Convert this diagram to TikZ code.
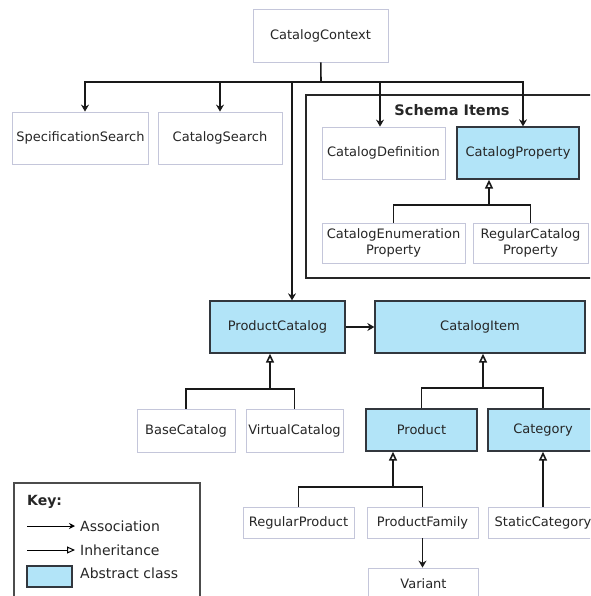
\documentclass[tikz,border=0pt]{standalone}
\usepackage{fontspec}
\setmainfont{DejaVu Sans}
\usetikzlibrary{arrows.meta,positioning,calc}
\definecolor{absblue}{RGB}{178,228,248}
\definecolor{clsedge}{RGB}{196,198,218}
\definecolor{absedge}{RGB}{50,55,62}
\tikzset{
  cls/.style={draw=clsedge,line width=0.8pt,fill=white,inner sep=0pt,align=center,
    font=\fontsize{13}{15.5}\selectfont,text=black!85},
  abscls/.style={cls,draw=absedge,line width=1.3pt,fill=absblue},
  link/.style={draw,line width=1.6pt,black!90},
  assoc/.style={link,-{Stealth[length=7pt,width=8pt]}},
  inherit/.style={link,-{Triangle[open,length=9pt,width=8pt]}},
  keytext/.style={anchor=west,inner sep=0pt,font=\fontsize{14}{16}\selectfont,text=black!85},
}
\begin{document}
\begin{tikzpicture}[x=1pt,y=-1pt]
\useasboundingbox (0,0) rectangle (590,596);
\clip (0,0) rectangle (590,596);

% Schema items frame
\draw[line width=1.8pt,black!85] (306,95) rectangle (598,278);
\node[font=\bfseries\fontsize{14.5}{16}\selectfont,text=black!85] (schema) at (452,110) {Schema Items};

% classes
\node[cls,minimum width=135pt,minimum height=53pt] (ctx) at (320.5,35.5) {CatalogContext};
\node[cls,minimum width=136pt,minimum height=52pt] (spec) at (80.5,138) {SpecificationSearch};
\node[cls,minimum width=124pt,minimum height=52pt] (csearch) at (220,138) {CatalogSearch};
\node[cls,minimum width=123pt,minimum height=52pt] (cdef) at (383.5,153) {CatalogDefinition};
\node[abscls,minimum width=122pt,minimum height=52pt] (cprop) at (518,153) {CatalogProperty};
\node[cls,minimum width=143pt,minimum height=40pt] (cenum) at (393.5,243) {CatalogEnumeration\\Property};
\node[cls,minimum width=115pt,minimum height=40pt] (rcprop) at (530.5,243) {RegularCatalog\\Property};
\node[abscls,minimum width=135pt,minimum height=52pt] (pcat) at (277.5,327) {ProductCatalog};
\node[abscls,minimum width=210pt,minimum height=52pt] (citem) at (480,327) {CatalogItem};
\node[cls,minimum width=98pt,minimum height=43pt] (bcat) at (186,430.5) {BaseCatalog};
\node[cls,minimum width=97pt,minimum height=43pt] (vcat) at (294.5,430.5) {VirtualCatalog};
\node[abscls,minimum width=111pt,minimum height=42pt] (prod) at (421.5,430) {Product};
\node[abscls,minimum width=110pt,minimum height=42pt] (categ) at (543,430) {Category};
\node[cls,minimum width=111pt,minimum height=31pt] (rprod) at (298.5,522.5) {RegularProduct};
\node[cls,minimum width=111pt,minimum height=31pt] (pfam) at (422.5,522.5) {ProductFamily};
\node[cls,minimum width=110pt,minimum height=31pt] (scat) at (543,522.5) {StaticCategory};
\node[cls,minimum width=110pt,minimum height=31pt] (var) at (423.5,583.5) {Variant};

% associations from the context
\coordinate (bus) at (321,82);
\draw[link] (ctx) -- (bus);
\draw[assoc] (bus) -| ([xshift=4.5pt]spec.north);
\draw[assoc] (bus) -| (csearch);
\draw[assoc] (bus) -| ([xshift=-3.5pt]cdef.north);
\draw[assoc] (bus) -| ([xshift=5pt]cprop.north);
\draw[assoc] (bus) -| ([xshift=14.5pt]pcat.north);
\draw[assoc] (pcat) -- (citem);
\draw[assoc] (pfam.south) -- (pfam.south |- var.north);

% inheritance
\coordinate (jprop) at (489,205);
\draw[link] (cenum.north) |- (jprop) -| (rcprop.north);
\draw[inherit] (jprop) -- (jprop |- cprop.south);

\coordinate (jpc) at (270,389);
\draw[link] (bcat.north) |- (jpc) -| (vcat.north);
\draw[inherit] (jpc) -- (jpc |- pcat.south);

\coordinate (jci) at (483,388);
\draw[link] (prod.north) |- (jci) -| (categ.north);
\draw[inherit] (jci) -- (jci |- citem.south);

\coordinate (jpr) at (393,487);
\draw[link] (rprod.north) |- (jpr) -| (pfam.north);
\draw[inherit] (jpr) -- (jpr |- prod.south);
\draw[inherit] (scat) -- (categ);

% key
\draw[line width=1.3pt,black!70] (14,483) rectangle (200,600);
\node[keytext,font=\bfseries\fontsize{14}{16}\selectfont] (key) at (27,502) {Key:};
\coordinate (ka1) at (27,526);
\coordinate (ka2) at (75,526);
\coordinate (ki1) at (27,550);
\coordinate (ki2) at (75,550);
\draw[line width=1pt,-{Stealth[length=6pt,width=6pt]}] (ka1) -- (ka2);
\draw[line width=1pt,-{Triangle[open,length=8pt,width=7pt]}] (ki1) -- (ki2);
\node[keytext] (kassoc) at (80,526) {Association};
\node[keytext] (kinh) at (80,550) {Inheritance};
\node[draw=absedge,line width=1.2pt,fill=absblue,minimum width=45pt,minimum height=21pt] (kbox) at (49.5,576.5) {};
\node[keytext] (kabs) at (80,573) {Abstract class};
\end{tikzpicture}
\end{document}
